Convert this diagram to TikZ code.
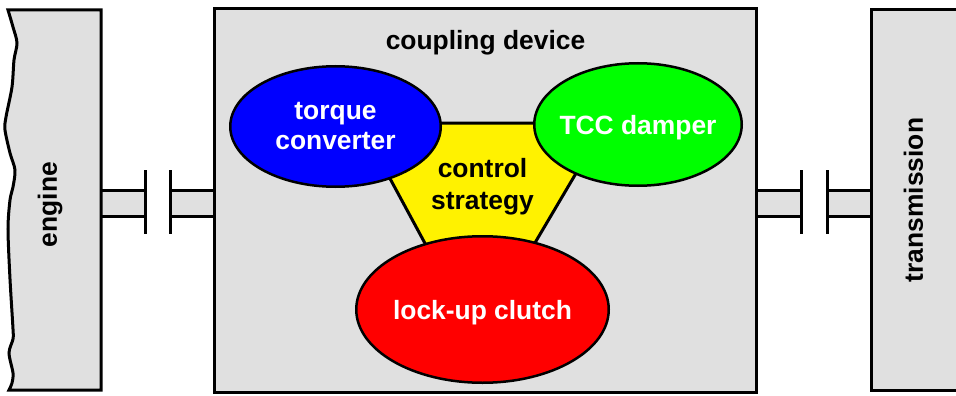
\documentclass[tikz,border=0pt]{standalone}
\usepackage{fontspec}
\setmainfont{Liberation Sans}
\usetikzlibrary{shapes.geometric}
\definecolor{housing}{HTML}{E0E0E0}
\begin{document}
\begin{tikzpicture}[x=1pt,y=-1pt,
  frame/.style={draw=black, line width=3pt, fill=housing, line join=miter},
  part/.style={ellipse, draw=black, line width=2.5pt, text=white,
    font=\bfseries\fontsize{26.4}{30}\selectfont, align=center, inner sep=0pt},
  lbl/.style={font=\bfseries\fontsize{26.4}{31}\selectfont, align=center, inner sep=0pt},
  shaftline/.style={draw=black, line width=3pt},
  flange/.style={draw=black, line width=3pt},
]
\useasboundingbox (0,0) rectangle (956,396);

% shafts with flange couplings (drawn first, housings go on top)
\foreach \a/\b/\c/\d in {101/145/170/214.5, 756/801/827/871}{
  \fill[housing] (\a,190) rectangle (\b,216);
  \fill[housing] (\c,190) rectangle (\d,216);
  \draw[shaftline] (\a,190) -- (\b,190) (\a,216) -- (\b,216);
  \draw[shaftline] (\c,190) -- (\d,190) (\c,216) -- (\d,216);
  \draw[flange] (\b,170) -- (\b,234);
  \draw[flange] (\c,170) -- (\c,234);
}

% engine housing with broken left edge
\draw[frame] (101,10) -- plot[smooth, tension=0.5] coordinates {
  (8,10) (13,27) (17,43) (14,60) (12,87) (6,117) (5,130) (10,153)
  (15,170) (13,187) (10,200) (8,229) (10,279) (13,329) (13,339)
  (9,353) (13,373) (12,383) (9,390)} -- (101,390) -- cycle;
\node[lbl, rotate=90] (engine) at (50,204.5) {engine};

% transmission housing, running off the right edge
\fill[housing] (871,10) rectangle (962,390);
\draw[frame, fill=none] (962,10) -- (871,10) -- (871,390) -- (962,390);
\node[lbl, rotate=90] (transmission) at (913.5,200) {transmission};

% coupling device housing
\draw[frame] (214.5,9) rectangle (756,392);
\node[lbl] (coupling) at (485.5,43) {coupling device};

% control strategy triangle behind the three components
\coordinate (tl) at (360,123);
\coordinate (tr) at (605.7,123);
\coordinate (bt) at (477.4,340.4);
\filldraw[fill=yellow, draw=black, line width=3pt, line join=miter] (tl) -- (tr) -- (bt) -- cycle;
\node[lbl, font=\bfseries\fontsize{26.4}{32}\selectfont] (strategy) at (482.5,187) {control\\strategy};

% components (negative inner xsep keeps the ellipse at its minimum size)
\node[part, fill=blue, minimum width=210.5pt, minimum height=120.5pt] (tc) at (335.5,126.5) {torque\\converter};
\node[part, fill=green, minimum width=207.5pt, minimum height=122.5pt, text depth=0pt, inner xsep=-30pt] (damper) at (638,124.5) {TCC damper};
\node[part, fill=red, minimum width=252.5pt, minimum height=146.5pt, text depth=0pt, inner xsep=-30pt] (clutch) at (482.5,309.5) {lock-up clutch};
\end{tikzpicture}
\end{document}
